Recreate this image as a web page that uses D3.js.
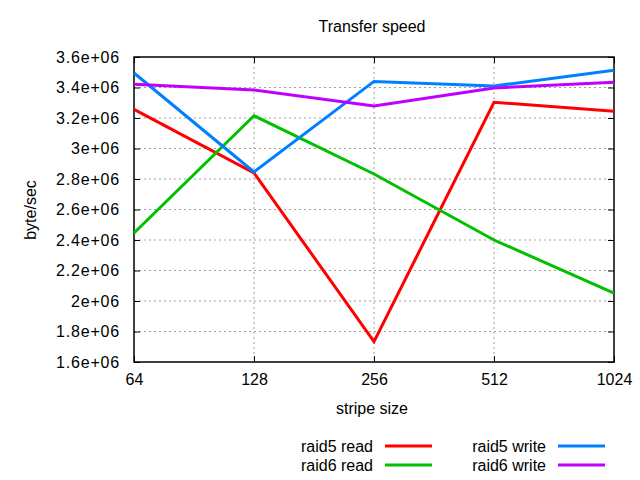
<!DOCTYPE html>
<html><head><meta charset="utf-8">
<script src="https://cdn.jsdelivr.net/npm/d3@7"></script>
<style>body{margin:0;background:#fff}text{font-family:"Liberation Sans",Arial,sans-serif;font-size:16px;fill:#000}</style>
</head><body>
<script>
const categories = [64, 128, 256, 512, 1024];
const raid5Read  = [3.257e6, 2.84e6, 1.733e6, 3.303e6, 3.244e6];
const raid6Read  = [2.446e6, 3.215e6, 2.833e6, 2.40e6, 2.052e6];
const raid5Write = [3.495e6, 2.846e6, 3.44e6, 3.41e6, 3.513e6];
const raid6Write = [3.421e6, 3.384e6, 3.279e6, 3.397e6, 3.434e6];
const yTicks = [1.6e6,1.8e6,2e6,2.2e6,2.4e6,2.6e6,2.8e6,3e6,3.2e6,3.4e6,3.6e6];
const yTickLabels = ["1.6e+06","1.8e+06","2e+06","2.2e+06","2.4e+06","2.6e+06","2.8e+06","3e+06","3.2e+06","3.4e+06","3.6e+06"];
const seriesNames = ["raid5 read","raid6 read","raid5 write","raid6 write"];
const seriesColors = ["#ff0000","#00c000","#0080ff","#c000ff"];
const seriesData = [raid5Read, raid6Read, raid5Write, raid6Write];

const W=640,H=480, L=134, R=614, T=57, B=362;
const svg=d3.select("body").append("svg").attr("width",W).attr("height",H);
const x=d3.scaleLog().base(2).domain([64,1024]).range([L,R]);
const y=d3.scaleLinear().domain([1.6e6,3.6e6]).range([B,T]);

// grid
const g=svg.append("g");
yTicks.forEach(v=>{ if(v>1.6e6 && v<3.6e6) g.append("line").attr("x1",L).attr("x2",R).attr("y1",y(v)).attr("y2",y(v)).attr("stroke","#a0a0a0").attr("stroke-dasharray","2,3"); });
categories.forEach(v=>{ if(v>64 && v<1024) g.append("line").attr("x1",x(v)).attr("x2",x(v)).attr("y1",T).attr("y2",B).attr("stroke","#a0a0a0").attr("stroke-dasharray","2,3"); });

// axes
const yAxisL=d3.axisLeft(y).tickValues(yTicks).tickFormat((d,i)=>yTickLabels[i]).tickSizeInner(-6).tickSizeOuter(0).tickPadding(14);
const yAxisR=d3.axisRight(y).tickValues(yTicks).tickFormat("").tickSizeInner(-6).tickSizeOuter(0);
const xAxisB=d3.axisBottom(x).tickValues(categories).tickFormat(d=>String(d)).tickSizeInner(-6).tickSizeOuter(0).tickPadding(12);
const xAxisT=d3.axisTop(x).tickValues(categories).tickFormat("").tickSizeInner(-6).tickSizeOuter(0);
function style(sel){sel.selectAll("path").remove();sel.selectAll("line").attr("stroke","#000");sel.selectAll("text").style("font-family","Liberation Sans, Arial, sans-serif").style("font-size","16px").attr("fill","#000");}
svg.append("g").attr("transform",`translate(${L},0)`).call(yAxisL).call(style).selectAll("text").style("letter-spacing","0.8px");
svg.append("g").attr("transform",`translate(${R},0)`).call(yAxisR).call(style);
svg.append("g").attr("transform",`translate(0,${B})`).call(xAxisB).call(style);
svg.append("g").attr("transform",`translate(0,${T})`).call(xAxisT).call(style);
svg.append("rect").attr("x",L).attr("y",T).attr("width",R-L).attr("height",B-T).attr("fill","none").attr("stroke","#000").attr("stroke-width",1.5);

// lines
const line=d3.line().x((d,i)=>x(categories[i])).y(d=>y(d));
seriesData.forEach((s,k)=>{
  svg.append("path").datum(s).attr("d",line).attr("fill","none").attr("stroke",seriesColors[k]).attr("stroke-width",3);
});

// titles
svg.append("text").attr("x",372).attr("y",32).attr("text-anchor","middle").text("Transfer speed");
svg.append("text").attr("x",372).attr("y",414).attr("text-anchor","middle").text("stripe size");
svg.append("text").attr("transform","translate(36,210) rotate(-90)").attr("text-anchor","middle").text("byte/sec");

// legend
const legPos=[[373,446],[373,465],[546,446],[546,465]];
seriesNames.forEach((n,k)=>{
  const [lx,ly]=legPos[k];
  svg.append("text").attr("x",lx).attr("y",ly+6).attr("text-anchor","end").text(n);
  svg.append("line").attr("x1",lx+12).attr("x2",lx+59).attr("y1",ly).attr("y2",ly).attr("stroke",seriesColors[k]).attr("stroke-width",3);
});
</script>
</body></html>
